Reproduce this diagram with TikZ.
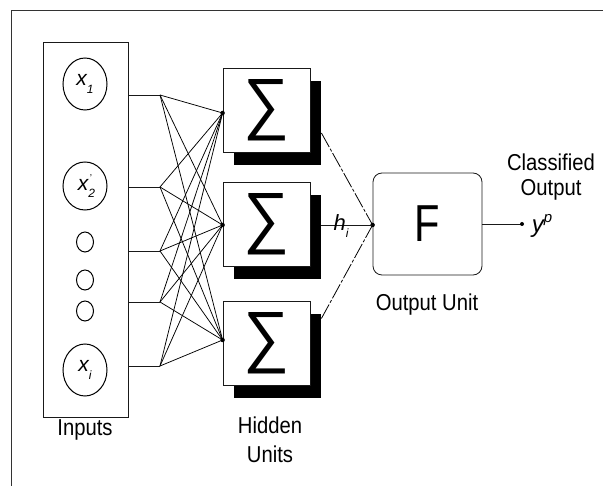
\documentclass[tikz,border=0pt]{standalone}
\usepackage{fontspec}
\setmainfont{Liberation Sans}
\newfontfamily\condfont[FakeStretch=0.88]{Liberation Sans}
\usetikzlibrary{shapes.geometric,shadows,calc}
\tikzset{
  thinline/.style={line width=0.8pt, draw=black!90},
  inbox/.style={draw, thinline, rectangle, minimum width=85pt, minimum height=375pt, inner sep=0pt},
  inell/.style={draw, line width=1pt, ellipse, minimum width=44pt, minimum height=52pt, inner sep=0pt, font=\fontsize{21}{21}\selectfont\itshape},
  smallell/.style={draw, line width=1pt, ellipse, minimum width=17pt, minimum height=20pt, inner sep=0pt},
  hidbox/.style={draw, thinline, fill=white, rectangle, minimum width=87pt, minimum height=84pt, inner sep=0pt,
     drop shadow={shadow xshift=11pt, shadow yshift=-13pt, fill=black, opacity=1}},
  outbox/.style={draw, thinline, rectangle, rounded corners=9pt, minimum width=109pt, minimum height=102pt, inner sep=0pt},
  lbl/.style={font=\condfont\fontsize{23}{26}\selectfont, inner sep=0pt, align=center},
  fan/.style={line width=0.75pt, draw=black},
  junc/.style={circle, fill=black, inner sep=0pt, minimum size=4.5pt},
  dashlink/.style={line width=0.8pt, dash pattern=on 16pt off 2pt on 3pt off 2pt},
  frameline/.style={line width=1pt, draw=black!80}
}
\newcommand{\subtx}[1]{\raisebox{-0.35em}{\fontsize{12}{12}\selectfont #1}}
\newcommand{\suptx}[1]{\raisebox{0.45em}{\fontsize{15}{15}\selectfont #1}}
\begin{document}
\begin{tikzpicture}[x=1pt,y=-1pt]
\useasboundingbox (0,0) rectangle (603,486);
% outer frame (cropped on right and bottom)
\draw[frameline] (11,486) -- (11,11) -- (603,11);

% inputs
\node[inbox] (inb) at (85.5,229.5) {};
\node[inell] (x1) at (85,84) {x\subtx{1}};
\node[inell, minimum height=48pt] (x2) at (85,186) {x\subtx{2}\kern-5pt\raisebox{0.45em}{\fontsize{10}{10}\selectfont\upshape'}};
\node[smallell] (d1) at (85,242) {};
\node[smallell] (d2) at (85,280) {};
\node[smallell] (d3) at (85,311) {};
\node[inell] (xt) at (85,370) {x\subtx{i}};
\node[lbl] (inlbl) at (85,430) {Inputs};

% fan start points
\coordinate (s1) at (160,95);
\coordinate (s2) at (160,187);
\coordinate (s3) at (160,251);
\coordinate (s4) at (160,302);
\coordinate (s5) at (160,366);

% hidden units
\node[hidbox] (h1) at (266.5,110) {};
\node[hidbox] (h2) at (266.5,224.5) {};
\node[hidbox] (h3) at (266.5,343.5) {};
\foreach \h in {h1,h2,h3}{
  \node[inner sep=0pt] at (\h.center) {\fontsize{52}{52}\selectfont\resizebox{46pt}{47pt}{∑}};
}
\node[lbl] (hidlbl) at (270,440) {Hidden\\[3pt]Units};

% junctions at hidden inputs
\coordinate (j1) at ($(h1.west)+(0,3)$);
\coordinate (j2) at ($(h2.west)+(0,0.5)$);
\coordinate (j3) at ($(h3.west)+(0,-3.5)$);

% input lines and fan
\foreach \s in {s1,s2,s3,s4,s5}{
  \draw[thinline] (inb.east |- \s) -- (\s);
  \foreach \j in {j1,j2,j3}{
    \draw[fan] (\s) -- (\j);
  }
}
\foreach \j in {j1,j2,j3}{ \node[junc] at (\j) {}; }

% output unit
\node[outbox] (ob) at (427.5,224) {};
\node[inner sep=0pt] (F) at (ob.center) {\fontsize{52}{52}\selectfont\scalebox{0.8}[1]{F}};
\node[lbl] (oulbl) at (427,305) {Output Unit};
\node[junc] (oj) at (ob.west |- 0,225) {};

% hidden to output
\coordinate (e1) at ($(h1.east)+(11,23)$);
\coordinate (e2) at ($(h2.east)+(11,0.5)$);
\coordinate (e3) at ($(h3.east)+(11,-25)$);
\draw[dashlink] (e1) -- (oj.center);
\draw[thinline] (e2) -- (oj.center);
\draw[dashlink] (e3) -- (oj.center);
\node[font=\fontsize{22}{22}\selectfont\itshape, inner sep=0pt] (hi) at (341,226) {h\subtx{i}};

% output
\coordinate (yo) at (522,224);
\draw[thinline] (ob.east |- yo) -- (yo);
\node[junc, minimum size=4pt] at (yo) {};
\node[lbl] (cls) at (551,177) {Classified\\[-1pt]Output};
\node[font=\fontsize{24}{24}\selectfont\itshape, inner sep=0pt] (yp) at (542,226) {y\suptx{p}};
\end{tikzpicture}
\end{document}
